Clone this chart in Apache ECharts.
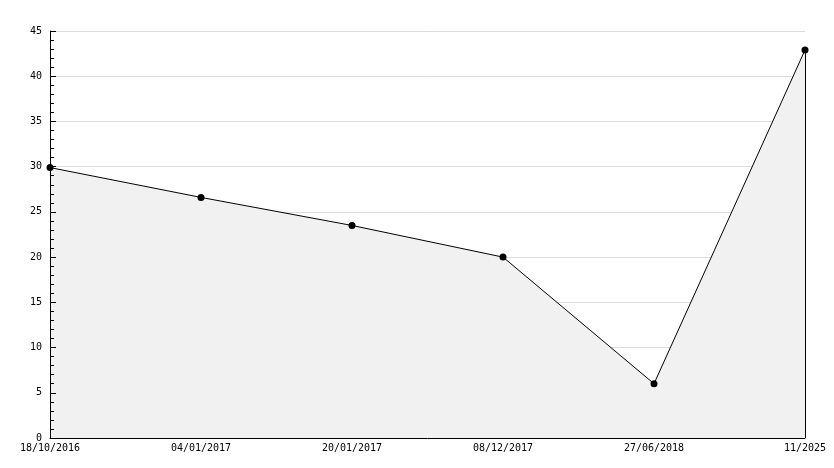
<!DOCTYPE html>
<html><head><meta charset="utf-8">
<script src="https://cdn.jsdelivr.net/npm/echarts@6/dist/echarts.min.js"></script>
<style>html,body{margin:0;padding:0;background:#fff}#c{width:834px;height:468px}</style>
</head><body><div id="c"></div>
<script>
const categories = ['18/10/2016','04/01/2017','20/01/2017','08/12/2017','27/06/2018','11/2025'];
const values = [29.9, 26.6, 23.5, 20.0, 6.0, 42.9];
const yTicks = {min: 0, max: 45, interval: 5};

const gridValues = [];
for (let v = yTicks.min + yTicks.interval; v <= yTicks.max; v += yTicks.interval) gridValues.push(v);

const chart = echarts.init(document.getElementById('c'), null, {renderer: 'canvas'});
const lastCat = categories[categories.length - 1];
const lastVal = values[values.length - 1];
chart.setOption({
  animation: false,
  backgroundColor: '#fff',
  grid: {left: 50, right: 29, top: 31, bottom: 30, containLabel: false},
  xAxis: {
    type: 'category', data: categories, boundaryGap: false, z: 10,
    axisLine: {lineStyle: {color: '#000', width: 1}},
    axisTick: {show: false},
    axisLabel: {color: '#000', fontFamily: 'DejaVu Sans Mono', fontSize: 10, margin: 5, interval: 0},
    splitLine: {show: false}
  },
  yAxis: {
    type: 'value', min: yTicks.min, max: yTicks.max, interval: yTicks.interval, z: 10,
    axisLine: {show: true, lineStyle: {color: '#000', width: 1}},
    axisTick: {show: true, inside: true, length: 6, lineStyle: {color: '#000'}},
    minorTick: {show: true, splitNumber: 5, length: 4, lineStyle: {color: '#000'}},
    axisLabel: {color: '#000', fontFamily: 'DejaVu Sans Mono', fontSize: 10, margin: 8},
    splitLine: {show: false}
  },
  series: [{
    type: 'line', data: [], z: 1, silent: true,
    markLine: {
      silent: true, symbol: 'none', label: {show: false}, z: 1,
      lineStyle: {color: '#dcdcdc', width: 1, type: 'solid'},
      data: gridValues.map(v => ({yAxis: v}))
    }
  }, {
    type: 'line', data: values, z: 5,
    symbol: 'circle', symbolSize: 7,
    itemStyle: {color: '#000'},
    lineStyle: {color: '#000', width: 1},
    areaStyle: {color: '#f1f1f1', opacity: 1},
    markLine: {
      silent: true, symbol: 'none', label: {show: false},
      lineStyle: {color: '#000', width: 1, type: 'solid'},
      data: [[{coord: [lastCat, 0]}, {coord: [lastCat, lastVal]}]]
    }
  }]
});
</script></body></html>
